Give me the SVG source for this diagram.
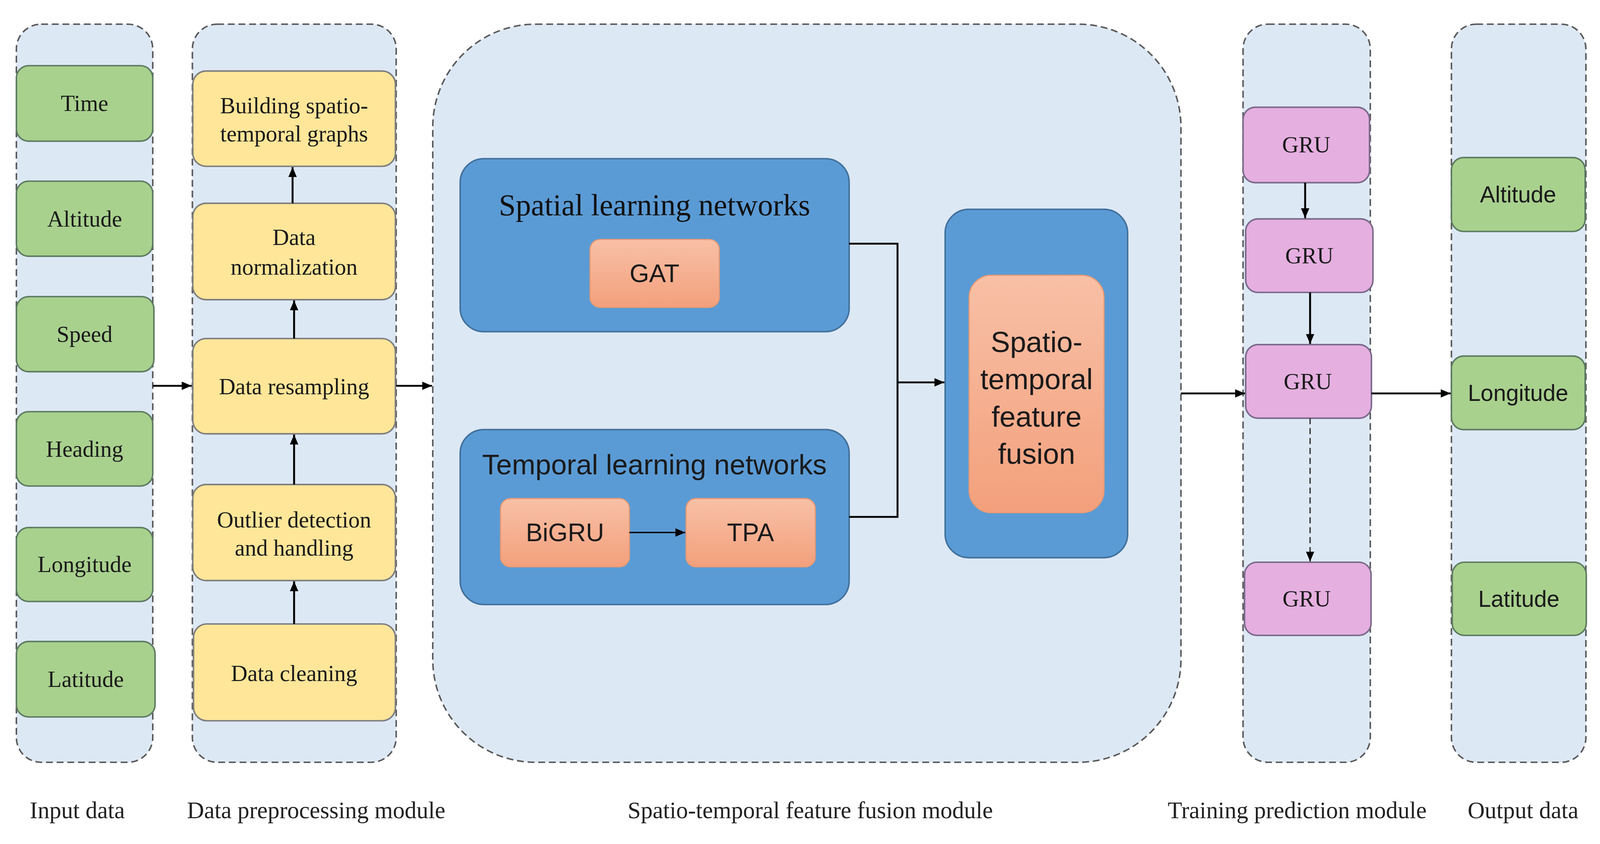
<svg xmlns="http://www.w3.org/2000/svg" width="4200" height="2160" viewBox="0 0 4200 2160">
<style>
svg{width:100vw;height:100vh}
.col{fill:#dde8f5;stroke:#5a5a5a;stroke-width:4;stroke-dasharray:18 10}
.grn{fill:#a9d18e;stroke:#5e7c62;stroke-width:4}
.yel{fill:#ffe699;stroke:#7f7f7f;stroke-width:4}
.pnk{fill:#e5afe0;stroke:#7a6a8a;stroke-width:4}
.blu{fill:#5b9bd5;stroke:#41719c;stroke-width:4}
.org{fill:url(#og);stroke:#ec9a70;stroke-width:3}
.ser{font-family:"Liberation Serif","Times New Roman",serif;font-size:60px;fill:#1a1a1a;text-anchor:middle;dominant-baseline:central}
.sans{font-family:"Liberation Sans",Arial,sans-serif;fill:#1a1a1a;text-anchor:middle;dominant-baseline:central}
.lbl{font-family:"Liberation Serif","Times New Roman",serif;font-size:62px;fill:#222;text-anchor:middle;dominant-baseline:central}
.ln{fill:none;stroke:#000;stroke-width:5}
.ar{fill:none;stroke:#000;stroke-width:5;marker-end:url(#ah)}
.da{fill:none;stroke:#333;stroke-width:3.5;stroke-dasharray:16 10;marker-end:url(#ah)}
</style>
<defs>
<linearGradient id="og" x1="0" y1="0" x2="0" y2="1">
<stop offset="0" stop-color="#f8c0a6"/>
<stop offset="1" stop-color="#f3a07c"/>
</linearGradient>
<marker id="ah" viewBox="0 0 26 22" refX="26" refY="11" markerWidth="26" markerHeight="22" markerUnits="userSpaceOnUse" orient="auto">
<path d="M0,0 L26,11 L0,22 z" fill="#000"/>
</marker>
</defs>

<g id="modules">
<rect id="col-input" class="col" x="43" y="36" width="358" height="1937" rx="65"/>
<rect id="col-preproc" class="col" x="505" y="36" width="535" height="1937" rx="65"/>
<rect id="col-fusion" class="col" x="1136" y="36" width="1964" height="1937" rx="270"/>
<rect id="col-train" class="col" x="3263" y="36" width="334" height="1937" rx="65"/>
<rect id="col-output" class="col" x="3810" y="36" width="353" height="1937" rx="65"/>
</g>

<g id="input-nodes">
<g id="in-time"><rect class="grn" x="43" y="145" width="358" height="198" rx="32"/><text class="ser" x="222" y="244">Time</text></g>
<g id="in-altitude"><rect class="grn" x="43" y="448" width="358" height="197" rx="32"/><text class="ser" x="222" y="547">Altitude</text></g>
<g id="in-speed"><rect class="grn" x="43" y="751" width="361" height="197" rx="32"/><text class="ser" x="222" y="850">Speed</text></g>
<g id="in-heading"><rect class="grn" x="43" y="1053" width="358" height="195" rx="32"/><text class="ser" x="222" y="1151">Heading</text></g>
<g id="in-longitude"><rect class="grn" x="43" y="1357" width="358" height="194" rx="32"/><text class="ser" x="222" y="1454">Longitude</text></g>
<g id="in-latitude"><rect class="grn" x="43" y="1656" width="364" height="198" rx="32"/><text class="ser" x="225" y="1755">Latitude</text></g>
</g>

<g id="preproc-nodes">
<g id="pp-building"><rect class="yel" x="506" y="159" width="532" height="250" rx="35"/><text class="ser" x="772" y="250">Building spatio-</text><text class="ser" x="772" y="324">temporal graphs</text></g>
<g id="pp-normalization"><rect class="yel" x="506" y="506" width="532" height="253" rx="35"/><text class="ser" x="772" y="596">Data</text><text class="ser" x="772" y="673">normalization</text></g>
<g id="pp-resampling"><rect class="yel" x="506" y="861" width="532" height="250" rx="35"/><text class="ser" x="772" y="987">Data resampling</text></g>
<g id="pp-outlier"><rect class="yel" x="506" y="1244" width="532" height="252" rx="35"/><text class="ser" x="772" y="1337">Outlier detection</text><text class="ser" x="772" y="1411">and handling</text></g>
<g id="pp-cleaning"><rect class="yel" x="508" y="1610" width="530" height="254" rx="35"/><text class="ser" x="772" y="1740">Data cleaning</text></g>
</g>

<g id="fusion-nodes">
<g id="spatial"><rect class="blu" x="1208" y="389" width="1021" height="454" rx="62"/><text x="1718" y="510" style="font-family:'Liberation Serif','Times New Roman',serif;font-size:80px;fill:#111;text-anchor:middle;dominant-baseline:central">Spatial learning networks</text></g>
<g id="gat"><rect class="org" x="1549" y="601" width="339" height="178" rx="26"/><text class="sans" x="1718" y="690" style="font-size:66px">GAT</text></g>
<g id="temporal"><rect class="blu" x="1208" y="1100" width="1021" height="459" rx="62"/><text class="sans" x="1718" y="1192" style="font-size:74px">Temporal learning networks</text></g>
<g id="bigru"><rect class="org" x="1314" y="1281" width="338" height="179" rx="26"/><text class="sans" x="1483" y="1370" style="font-size:66px">BiGRU</text></g>
<g id="tpa"><rect class="org" x="1801" y="1281" width="339" height="179" rx="26"/><text class="sans" x="1970" y="1370" style="font-size:66px">TPA</text></g>
<g id="fusion-outer"><rect class="blu" x="2481" y="522" width="479" height="914" rx="62"/></g>
<g id="fusion"><rect class="org" x="2544" y="695" width="354" height="623" rx="58"/>
<text class="sans" x="2721" y="870" style="font-size:76px">Spatio-</text>
<text class="sans" x="2721" y="968" style="font-size:76px">temporal</text>
<text class="sans" x="2721" y="1066" style="font-size:76px">feature</text>
<text class="sans" x="2721" y="1164" style="font-size:76px">fusion</text></g>
</g>

<g id="train-nodes">
<g id="gru1"><rect class="pnk" x="3263" y="254" width="332" height="198" rx="32"/><text class="ser" x="3429" y="353">GRU</text></g>
<g id="gru2"><rect class="pnk" x="3270" y="547" width="334" height="193" rx="32"/><text class="ser" x="3437" y="644">GRU</text></g>
<g id="gru3"><rect class="pnk" x="3270" y="877" width="330" height="193" rx="32"/><text class="ser" x="3433" y="974">GRU</text></g>
<g id="gru4"><rect class="pnk" x="3267" y="1448" width="332" height="192" rx="32"/><text class="ser" x="3430" y="1544">GRU</text></g>
</g>

<g id="output-nodes">
<g id="out-altitude"><rect class="grn" x="3810" y="386" width="351" height="194" rx="32"/><text class="sans" x="3985" y="483" style="font-size:60px">Altitude</text></g>
<g id="out-longitude"><rect class="grn" x="3810" y="907" width="351" height="193" rx="32"/><text class="sans" x="3985" y="1004" style="font-size:60px">Longitude</text></g>
<g id="out-latitude"><rect class="grn" x="3812" y="1448" width="352" height="192" rx="32"/><text class="sans" x="3987" y="1544" style="font-size:60px">Latitude</text></g>
</g>

<g id="connectors">
<line class="ar" x1="401" y1="985" x2="503" y2="985"/>
<line class="ar" x1="1040" y1="985" x2="1134" y2="985"/>
<line class="ar" x1="772" y1="1610" x2="772" y2="1498"/>
<line class="ar" x1="772" y1="1244" x2="772" y2="1113"/>
<line class="ar" x1="772" y1="861" x2="772" y2="761"/>
<line class="ar" x1="768" y1="506" x2="768" y2="411"/>
<polyline class="ln" points="2229,612 2356,612 2356,1329 2229,1329"/>
<line class="ar" x1="2356" y1="976" x2="2479" y2="976"/>
<line class="ar" style="stroke-width:3.5" x1="1652" y1="1370" x2="1799" y2="1370"/>
<line class="ar" x1="3100" y1="1005" x2="3268" y2="1005"/>
<line class="ar" x1="3600" y1="1005" x2="3808" y2="1005"/>
<line class="ar" x1="3426" y1="452" x2="3426" y2="545"/>
<line class="ar" x1="3439" y1="740" x2="3439" y2="875"/>
<line class="da" x1="3439" y1="1070" x2="3439" y2="1446"/>
</g>

<g id="labels">
<text class="lbl" x="203" y="2099">Input data</text>
<text class="lbl" x="830" y="2099">Data preprocessing module</text>
<text class="lbl" x="2127" y="2099">Spatio-temporal feature fusion module</text>
<text class="lbl" x="3405" y="2099">Training prediction module</text>
<text class="lbl" x="3998" y="2099">Output data</text>
</g>
</svg>
